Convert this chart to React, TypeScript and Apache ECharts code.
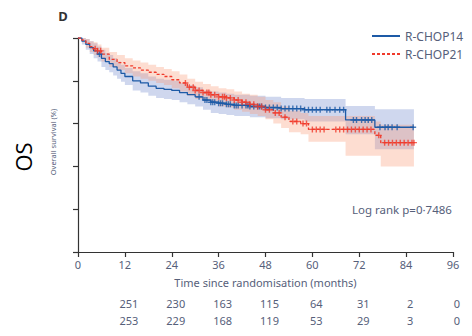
import React, { useEffect, useRef } from "react";
import * as echarts from "echarts";

// R-CHOP14 (blue) Kaplan-Meier step curve
const blueTimes = [0,1,2,3,4,5,6,7,8,9,10,11,12,14,16,18,20,22,24,26,28,30,32,34,36,38,40,44,48,52,58,68.5,76,86];
const blueSurv = [100,98.5,97,95.5,94,92.5,90.5,89,88,86.5,85,83.5,82,80,79,77.5,76.5,76,75.5,74.5,73.5,72.5,71,70,69.5,69,68.5,68,67.5,67,66.5,61.7,58.3,58.3];
const blueUpper = [100,100,99.5,98.5,97.5,96,94.5,93,92,90.5,89,87.5,86,84.5,83.5,82,81,80.5,80,79,78,77,75.5,75,74.5,74,73.5,73,72.5,72,71.5,68.2,66.7,66.7];
const blueLower = [100,97,94.5,92.5,90.5,89,86.5,85,84,82.5,81,79.5,78,75.5,74.5,73,72,71.5,71,70,69,68,66.5,65,64.5,64,63.5,63,62.5,62,61,55,48,48];
const blueCensor = [5.5,31,32.5,33,34,34.5,35,36,36.5,37,38,38.5,39,40,40.5,41,42,43,43.5,44,45,46,46.5,47,48,49,50,51,52,53,54,55,56,57,58,59,60,61,62,63.7,64.5,65.8,67,68,70.5,71.3,72.6,73.5,74.3,75.2,77.3,78.6,79.4,80.4,81.7,85.8];

// R-CHOP21 (red) Kaplan-Meier step curve
const redTimes = [0,1,2,3,4,5,6,8,10,12,14,16,18,20,22,24,26,28,30,32,34,36,38,40,42,44,46,48,50,52,54,57,59,68.5,76,77.5,86];
const redSurv = [100,99,97.5,96,95,94,92.5,90,88.5,87,86,85,84,83,82,80.5,79,77,75.5,74.5,73.5,72.5,72,71,70,69,68,66.5,65,63,61,60,57.3,57.3,54.5,51.1,51.1];
const redUpper = [100,100,99.5,98.5,98,97,95.5,93.5,92,90.5,89.5,88.5,87.5,86.5,85.5,84.5,83,81,79.5,78.5,77.5,76.5,76,75,74,73.5,72.5,71,70,68,66,65,63.5,63.5,61,59.5,59.5];
const redLower = [100,98,95.5,93.5,92,91,89,86.5,85,83.5,82,81,80,79,78,76.5,75,73,71.5,70.5,69.5,68,67.5,66.5,65.5,64.5,63.5,62,60,58,56,55,51.5,45,45,40,40];
const redCensor = [4.4,5,5.8,27.5,28.5,29.5,30,31,32,33,33.5,34,35,36,37,37.5,38,39,40,41,42,43,44,45,46,47,48,49,50.5,51.5,53,55,56,57.6,58.5,60,61,62,63,66,67,68,69,70,71,72,73,74,75,77,78.5,79.5,80.5,81.5,82.5,83.5,84.5,85.5,86];

// Numbers at risk
const riskTimes = [12,24,36,48,60,72,84,96];
const riskBlue = ["251","230","163","115","64","31","2","0"];
const riskRed = ["253","229","168","119","53","29","3","0"];

const BLUE = "#1d5aa6";
const RED = "#f03a2b";
const FONT = "Noto Sans";
const TXT = "#56607a";

function survAt(times: number[], surv: number[], t: number) {
  let s = surv[0];
  for (let i = 0; i < times.length; i++) if (times[i] <= t) s = surv[i];
  return s;
}

const plus = "path://M-0.7,-3H0.7V-0.7H3V0.7H0.7V3H-0.7V0.7H-3V-0.7H-0.7Z";
const solidIcon = "path://M0,0H28V2H0Z";
const dotIcon = "path://M0,0H3V2H0Z M5,0H8V2H5Z M10,0H13V2H10Z M15,0H18V2H15Z M20,0H23V2H20Z M25,0H28V2H25Z";

function bandSeries(times: number[], up: number[], lo: number[], fill: string) {
  return {
    type: "custom",
    coordinateSystem: "cartesian2d",
    data: [[0, 0]],
    silent: true,
    z: 1,
    renderItem: (_p: any, api: any) => {
      const pts: number[][] = [];
      const n = times.length;
      for (let i = 0; i < n; i++) {
        pts.push(api.coord([times[i], up[i]]));
        if (i < n - 1) pts.push(api.coord([times[i + 1], up[i]]));
      }
      for (let i = n - 1; i >= 0; i--) {
        if (i < n - 1) pts.push(api.coord([times[i + 1], lo[i]]));
        pts.push(api.coord([times[i], lo[i]]));
      }
      return { type: "polygon", shape: { points: pts }, style: { fill } };
    },
  };
}

export default function App() {
  const ref = useRef<HTMLDivElement>(null);
  useEffect(() => {
    if (!ref.current) return;
    const chart = echarts.init(ref.current, undefined, { renderer: "svg" });
    const pairs = (ts: number[], vs: number[]) => ts.map((t, i) => [t, vs[i]]);
    chart.setOption({
      animation: false,
      textStyle: { fontFamily: FONT },
      grid: { left: 78, right: 19, top: 38, bottom: 84 },
      legend: {
        data: [
          { name: "R-CHOP14", icon: solidIcon },
          { name: "R-CHOP21", icon: dotIcon },
        ],
        orient: "vertical",
        left: 367,
        top: 25,
        itemWidth: 28,
        itemHeight: 2,
        itemGap: 6,
        textStyle: { color: TXT, fontSize: 12, fontFamily: FONT },
      },
      xAxis: {
        type: "value",
        min: 0,
        max: 96,
        interval: 12,
        axisLine: { lineStyle: { color: "#333", width: 1.2 } },
        axisTick: { length: 5, lineStyle: { color: "#333", width: 1.2 } },
        axisLabel: { color: TXT, fontSize: 11, margin: 7 },
        splitLine: { show: false },
        name: "Time since randomisation (months)",
        nameLocation: "middle",
        nameGap: 25,
        nameTextStyle: { color: TXT, fontSize: 11 },
      },
      yAxis: {
        type: "value",
        min: 0,
        max: 100,
        interval: 20,
        axisLine: { show: true, lineStyle: { color: "#333", width: 1.2 } },
        axisTick: { show: true, length: 5, lineStyle: { color: "#333", width: 1.2 } },
        axisLabel: { show: false },
        splitLine: { show: false },
      },
      series: [
        bandSeries(blueTimes, blueUpper, blueLower, "rgba(140,160,215,0.42)"),
        bandSeries(redTimes, redUpper, redLower, "rgba(248,155,120,0.34)"),
        { type: "line", name: "R-CHOP14", data: pairs(blueTimes, blueSurv), step: "end", symbol: "none", color: BLUE, lineStyle: { color: BLUE, width: 1.3 }, z: 3 },
        { type: "line", name: "R-CHOP21", data: pairs(redTimes, redSurv), step: "end", symbol: "none", color: RED, lineStyle: { color: RED, width: 1.3, type: [3, 2] }, z: 4 },
        { type: "scatter", name: "c14", data: blueCensor.map((t) => [t, survAt(blueTimes, blueSurv, t)]), symbol: plus, symbolSize: [6, 6], itemStyle: { color: BLUE }, z: 5 },
        { type: "scatter", name: "c21", data: redCensor.map((t) => [t, survAt(redTimes, redSurv, t)]), symbol: plus, symbolSize: [6, 6], itemStyle: { color: RED }, z: 6 },
      ],
    });
    const texts: any[] = [];
    riskTimes.forEach((t, i) => {
      const x = chart.convertToPixel({ xAxisIndex: 0 }, t) as number;
      texts.push({ type: "text", x: x + 4, y: 303, style: { text: riskBlue[i], fill: TXT, font: `11px "${FONT}"`, align: "center", verticalAlign: "middle" } });
      texts.push({ type: "text", x: x + 4, y: 320, style: { text: riskRed[i], fill: TXT, font: `11px "${FONT}"`, align: "center", verticalAlign: "middle" } });
    });
    chart.setOption({
      graphic: [
        { type: "text", x: 63, y: 16, style: { text: "D", fill: "#333", font: `bold 13px "${FONT}"`, align: "center", verticalAlign: "middle" } },
        { type: "text", x: 23, y: 157, rotation: Math.PI / 2, style: { text: "OS", fill: "#000", font: `22px "Open Sans"`, align: "center", verticalAlign: "middle" } },
        { type: "text", x: 53, y: 142, rotation: Math.PI / 2, style: { text: "Overall survival (%)", fill: TXT, font: `7.5px "${FONT}"`, align: "center", verticalAlign: "middle" } },
        { type: "text", x: 352, y: 209, style: { text: "Log rank p=0·7486", fill: TXT, font: `11.5px "${FONT}"`, align: "left", verticalAlign: "middle" } },
        ...texts,
      ],
    });
    return () => chart.dispose();
  }, []);
  return <div ref={ref} style={{ width: 472, height: 336, position: "absolute", left: 0, top: 0 }} />;
}
